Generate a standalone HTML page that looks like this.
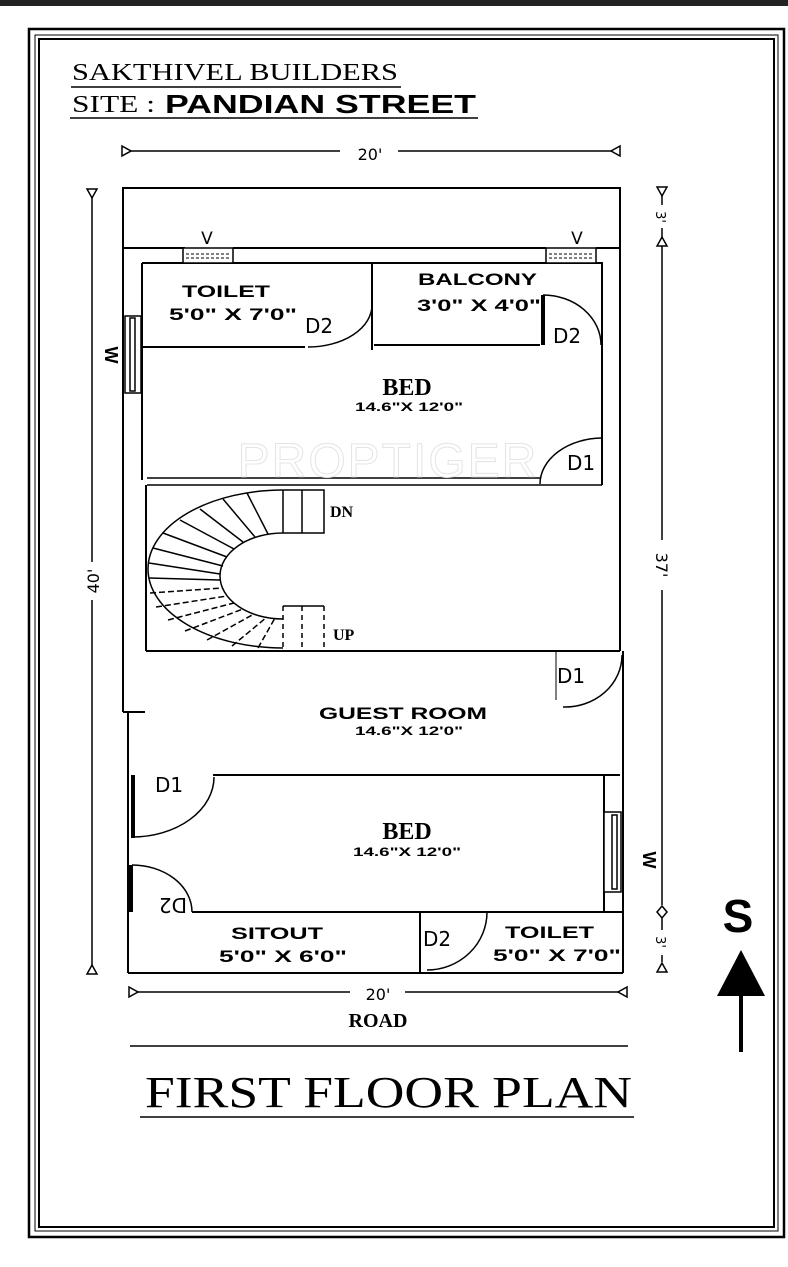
<!DOCTYPE html>
<html><head><meta charset="utf-8"><style>
html,body{margin:0;padding:0;background:#fff;}
svg{display:block;}
.b{font-family:"Liberation Sans",sans-serif;font-weight:900;fill:#000;}
.s{font-family:"Liberation Serif",serif;fill:#000;}
.t{font-family:"DejaVu Sans","Liberation Sans",sans-serif;fill:#000;}
</style></head><body>
<svg width="788" height="1267" viewBox="0 0 788 1267" xmlns="http://www.w3.org/2000/svg">
<rect x="0" y="0" width="788" height="6" fill="#222"/>
<g fill="none" stroke="#000">
<rect x="29" y="29" width="755" height="1208" stroke-width="2.5"/>
<rect x="35" y="35" width="743" height="1196" stroke-width="1"/>
<rect x="39" y="39" width="735" height="1188" stroke-width="2"/>
</g>
<text x="72" y="80" class="s" font-size="24" textLength="326" lengthAdjust="spacingAndGlyphs">SAKTHIVEL BUILDERS</text>
<line x1="71" y1="87" x2="401" y2="87" stroke="#000" stroke-width="1.5"/>
<text x="72" y="112" class="s" font-size="24" textLength="83" lengthAdjust="spacingAndGlyphs">SITE :</text>
<text x="165" y="113" class="b" font-size="26" textLength="311" lengthAdjust="spacingAndGlyphs">PANDIAN STREET</text>
<line x1="70" y1="118" x2="478" y2="118" stroke="#000" stroke-width="1.5"/>

<g stroke="#000" stroke-width="1.5" fill="#fff">
<line x1="128" y1="151" x2="340" y2="151"/><line x1="398" y1="151" x2="614" y2="151"/>
<path d="M122 146 L131 151 L122 156 Z"/><path d="M620 146 L611 151 L620 156 Z"/>
<line x1="92" y1="195" x2="92" y2="562"/><line x1="92" y1="600" x2="92" y2="968"/>
<path d="M87 189 L97 189 L92 198 Z"/><path d="M87 974 L97 974 L92 965 Z"/>
<line x1="662" y1="192" x2="662" y2="205"/><line x1="662" y1="228" x2="662" y2="540"/><line x1="662" y1="590" x2="662" y2="905"/>
<path d="M657 187 L667 187 L662 196 Z"/><path d="M657 246 L667 246 L662 237 Z"/>
<path d="M662 906 L667 912 L662 918 L657 912 Z"/>
<line x1="662" y1="918" x2="662" y2="930"/><line x1="662" y1="955" x2="662" y2="962"/>
<path d="M657 972 L667 972 L662 963 Z"/>
<line x1="135" y1="992" x2="350" y2="992"/><line x1="405" y1="992" x2="620" y2="992"/>
<path d="M129 987 L138 992 L129 997 Z"/><path d="M627 987 L618 992 L627 997 Z"/>
</g>
<text x="370" y="160" class="t" font-size="16" text-anchor="middle">20'</text>
<text x="378" y="1000" class="t" font-size="16" text-anchor="middle">20'</text>
<text transform="translate(99,581) rotate(-90)" class="t" font-size="16" text-anchor="middle">40'</text>
<text transform="translate(656,565) rotate(90)" class="t" font-size="16" text-anchor="middle">37'</text>
<text transform="translate(656,217) rotate(90)" class="t" font-size="13" text-anchor="middle">3'</text>
<text transform="translate(656,942) rotate(90)" class="t" font-size="13" text-anchor="middle">3'</text>

<g stroke="#000" stroke-width="2" fill="none" stroke-linejoin="miter">
<path d="M123 248 L123 188 L620 188 L620 248"/>
<line x1="123" y1="248" x2="185" y2="248"/><line x1="233" y1="248" x2="546" y2="248"/><line x1="596" y1="248" x2="620" y2="248"/>
<line x1="123" y1="248" x2="123" y2="712"/>
<line x1="620" y1="248" x2="620" y2="651"/>
<line x1="623" y1="651" x2="623" y2="973"/>
<line x1="123" y1="712" x2="145" y2="712"/>
<line x1="128" y1="712" x2="128" y2="973"/>
<line x1="128" y1="973" x2="623" y2="973"/>
<path d="M142 263 L602 263 L602 485"/>
<line x1="142" y1="263" x2="142" y2="480"/>
<line x1="142" y1="347" x2="305" y2="347"/>
<line x1="372" y1="263" x2="372" y2="350"/>
<line x1="374" y1="345" x2="540" y2="345"/>
<line x1="147" y1="478" x2="540" y2="478" stroke-width="1.5"/>
<line x1="147" y1="485" x2="602" y2="485" stroke-width="1.5"/>
<line x1="146" y1="485" x2="146" y2="651"/>
<line x1="146" y1="651" x2="620" y2="651"/>
<line x1="213" y1="775" x2="620" y2="775"/>
<line x1="604" y1="775" x2="604" y2="912"/>
<line x1="192" y1="912" x2="623" y2="912"/>
<line x1="420" y1="912" x2="420" y2="973"/>
</g>
<g stroke="#000" fill="#fff" stroke-width="1.5">
<rect x="183" y="248" width="50" height="15"/><rect x="546" y="248" width="50" height="15"/>
</g>
<g stroke="#000" stroke-width="1" stroke-dasharray="3,2">
<line x1="186" y1="254" x2="231" y2="254"/><line x1="186" y1="258" x2="231" y2="258"/>
<line x1="549" y1="254" x2="594" y2="254"/><line x1="549" y1="258" x2="594" y2="258"/>
</g>
<text x="207" y="244" class="t" font-size="17" text-anchor="middle">V</text>
<text x="577" y="244" class="t" font-size="17" text-anchor="middle">V</text>
<g stroke="#000" fill="#fff" stroke-width="1.5">
<rect x="125" y="316" width="16" height="77"/><rect x="130" y="318" width="5" height="73"/>
<rect x="604" y="812" width="17" height="80"/><rect x="612" y="815" width="5" height="74"/>
</g>
<text transform="translate(105,355) rotate(90)" class="b" font-size="18" text-anchor="middle">W</text>
<text transform="translate(643,860) rotate(90)" class="b" font-size="18" text-anchor="middle">W</text>

<g stroke="#000" stroke-width="1.5" fill="none">
<path d="M372 305 A64 42 0 0 1 308 347"/>
<path d="M543 295 A58 50 0 0 1 601 345"/>
<path d="M602 438 A63 46 0 0 0 540 484"/>
<path d="M622 655 A57 52 0 0 1 563 707"/>
<path d="M214 777 A82 60 0 0 1 132 837"/>
<path d="M132 865 A60 47 0 0 1 192 912"/>
<path d="M487 912 A60 58 0 0 1 427 970"/>
<line x1="556" y1="651" x2="556" y2="700" stroke-width="1"/>
</g>
<g stroke="#000" stroke-width="4">
<line x1="543" y1="295" x2="543" y2="345"/>
<line x1="133" y1="775" x2="133" y2="838"/>
<line x1="131" y1="865" x2="131" y2="912"/>
</g>
<g class="t" font-size="20">
<text x="305" y="333">D2</text>
<text x="553" y="343">D2</text>
<text x="567" y="470">D1</text>
<text x="557" y="683">D1</text>
<text x="155" y="792">D1</text>
<text x="423" y="946">D2</text>
<text transform="translate(187,898) rotate(180)">D2</text>
</g>

<g stroke="#000" stroke-width="1.5" fill="none">
<path d="M283 490 A135 79 0 0 0 283 648"/>
<path d="M283 533 A63 43 0 0 0 283 619"/>
<path d="M283 490 L324 490 L324 533 L283 533"/>
<line x1="283" y1="490" x2="283" y2="533"/><line x1="302" y1="490" x2="302" y2="533"/>
<line x1="283" y1="606" x2="324" y2="606"/>
<g stroke-dasharray="5,4">
<line x1="283" y1="606" x2="283" y2="648"/><line x1="302" y1="606" x2="302" y2="648"/><line x1="324" y1="606" x2="324" y2="648"/>
</g>
<line x1="247" y1="493" x2="268" y2="534"/>
<line x1="223" y1="499" x2="255" y2="537"/>
<line x1="200" y1="509" x2="243" y2="542"/>
<line x1="180" y1="520" x2="234" y2="549"/>
<line x1="163" y1="533" x2="227" y2="557"/>
<line x1="153" y1="548" x2="223" y2="566"/>
<line x1="149" y1="563" x2="220" y2="574"/>
<line x1="149" y1="578" x2="220" y2="580"/>
<g stroke-dasharray="6,3">
<line x1="150" y1="593" x2="222" y2="588"/>
<line x1="156" y1="607" x2="227" y2="596"/>
<line x1="168" y1="620" x2="234" y2="603"/>
<line x1="185" y1="631" x2="243" y2="609"/>
<line x1="207" y1="640" x2="254" y2="614"/>
<line x1="232" y1="646" x2="267" y2="617"/>
<line x1="258" y1="648" x2="275" y2="618"/>
</g>
</g>
<text x="330" y="517" class="s" font-size="16" font-weight="bold">DN</text>
<text x="333" y="640" class="s" font-size="16" font-weight="bold">UP</text>

<text x="388" y="477" font-family="Liberation Sans,sans-serif" font-size="48" fill="none" stroke="#e4e4e4" stroke-width="1" text-anchor="middle" letter-spacing="2">PROPTIGER</text>

<text x="182" y="297" class="b" font-size="17" textLength="88" lengthAdjust="spacingAndGlyphs">TOILET</text>
<text x="169" y="320" class="b" font-size="17" textLength="128" lengthAdjust="spacingAndGlyphs">5'0" X 7'0"</text>
<text x="418" y="285" class="b" font-size="17" textLength="119" lengthAdjust="spacingAndGlyphs">BALCONY</text>
<text x="417" y="311" class="b" font-size="17" textLength="124" lengthAdjust="spacingAndGlyphs">3'0" X 4'0"</text>
<text x="407" y="395" class="s" font-size="24" font-weight="bold" text-anchor="middle">BED</text>
<text x="355" y="411" class="b" font-size="12" textLength="108" lengthAdjust="spacingAndGlyphs">14.6"X 12'0"</text>
<text x="319" y="719" class="b" font-size="17" textLength="168" lengthAdjust="spacingAndGlyphs">GUEST ROOM</text>
<text x="355" y="735" class="b" font-size="12" textLength="108" lengthAdjust="spacingAndGlyphs">14.6"X 12'0"</text>
<text x="407" y="839" class="s" font-size="24" font-weight="bold" text-anchor="middle">BED</text>
<text x="353" y="856" class="b" font-size="12" textLength="108" lengthAdjust="spacingAndGlyphs">14.6"X 12'0"</text>
<text x="231" y="939" class="b" font-size="17" textLength="92" lengthAdjust="spacingAndGlyphs">SITOUT</text>
<text x="219" y="962" class="b" font-size="17" textLength="128" lengthAdjust="spacingAndGlyphs">5'0" X 6'0"</text>
<text x="505" y="938" class="b" font-size="17" textLength="89" lengthAdjust="spacingAndGlyphs">TOILET</text>
<text x="493" y="961" class="b" font-size="17" textLength="128" lengthAdjust="spacingAndGlyphs">5'0" X 7'0"</text>

<text x="378" y="1027" class="s" font-size="20" font-weight="bold" text-anchor="middle">ROAD</text>
<line x1="130" y1="1046" x2="628" y2="1046" stroke="#000" stroke-width="1.5"/>
<text x="145" y="1107" class="s" font-size="44" textLength="487" lengthAdjust="spacingAndGlyphs">FIRST FLOOR PLAN</text>
<line x1="140" y1="1117" x2="634" y2="1117" stroke="#000" stroke-width="1.5"/>

<text x="738" y="932" class="b" font-size="46" text-anchor="middle">S</text>
<path d="M741 950 L765 996 L717 996 Z" fill="#000"/>
<line x1="741" y1="995" x2="741" y2="1052" stroke="#000" stroke-width="4"/>
</svg>
</body></html>
